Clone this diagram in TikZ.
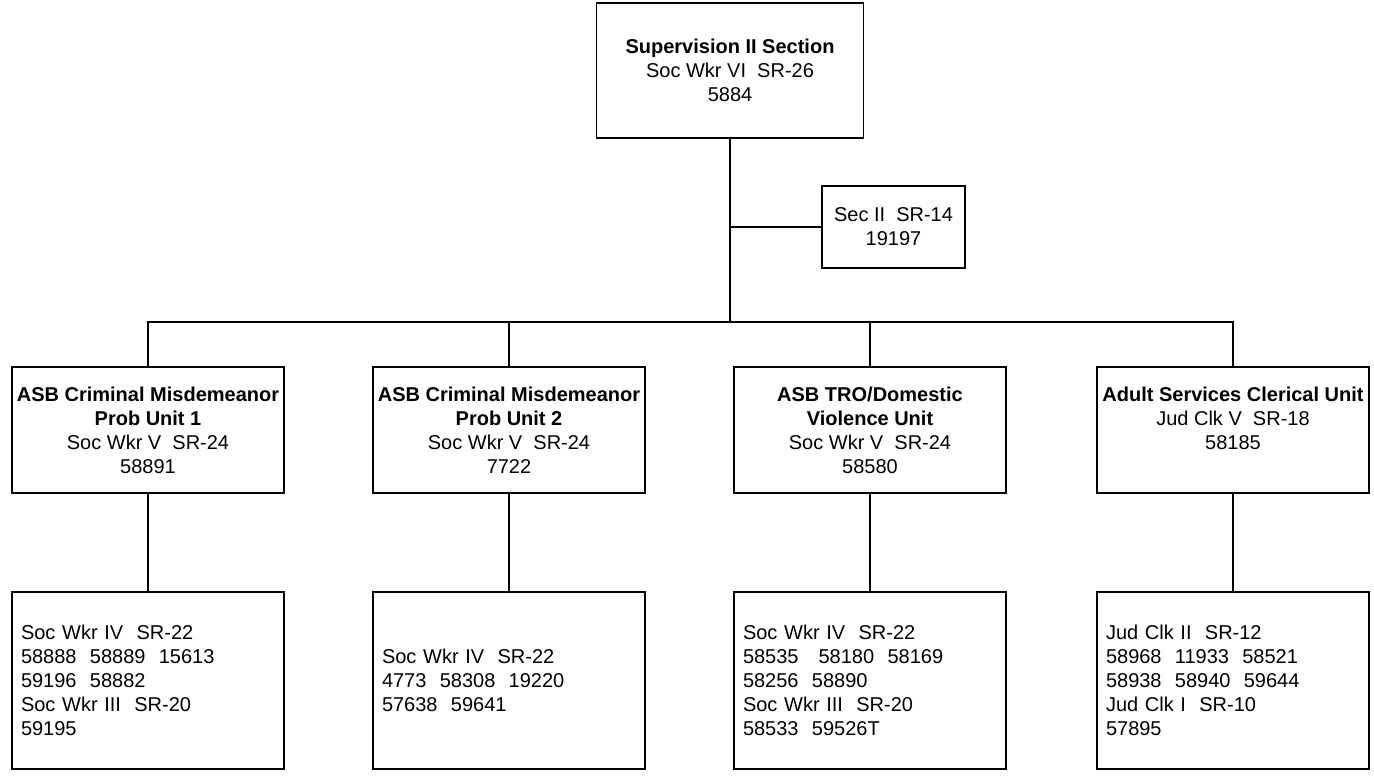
\documentclass[tikz,border=0pt]{standalone}
\usepackage{fontspec}
\setmainfont{Liberation Sans}
\usepackage{tikz}

\begin{document}
\begin{tikzpicture}[x=1pt, y=-1pt,
    every node/.style={font=\fontsize{20}{24}\selectfont},
    box/.style={draw=black, line width=1.6pt, rectangle},
    unitbox/.style={box, align=center, inner xsep=2pt, minimum width=272pt, minimum height=126pt},
    staffbox/.style={box, align=left, inner xsep=9pt, text width=254pt, minimum height=177pt},
    link/.style={draw=black, line width=1.4pt}]
    \useasboundingbox (0,0) rectangle (1374,784);

    %% Section head and secretary
    \node[box, align=center, minimum width=267pt, minimum height=135pt] (sup) at (730,70.5)
        {\textbf{Supervision II Section}\\Soc Wkr VI~~SR-26\\5884};
    \node[box, align=center, minimum width=143pt, minimum height=82pt] (sec) at (893.5,227)
        {Sec II~~SR-14\\19197};

    %% Units
    \node[unitbox] (unitA) at (148,430)
        {\textbf{ASB Criminal Misdemeanor}\\\textbf{Prob Unit 1}\\Soc Wkr V~~SR-24\\58891};
    \node[unitbox] (unitB) at (509,430)
        {\textbf{ASB Criminal Misdemeanor}\\\textbf{Prob Unit 2}\\Soc Wkr V~~SR-24\\7722};
    \node[unitbox] (unitC) at (870,430)
        {\textbf{ASB TRO/Domestic}\\\textbf{Violence Unit}\\Soc Wkr V~~SR-24\\58580};
    \node[unitbox] (unitD) at (1233,430)
        {\textbf{Adult Services Clerical Unit}\\Jud Clk V~~SR-18\\58185\\\mbox{}};

    %% Staff
    \node[staffbox] (staffA) at (148,680.5)
        {Soc Wkr IV~~SR-22\\58888~~58889~~15613\\59196~~58882\\Soc Wkr III~~SR-20\\59195};
    \node[staffbox] (staffB) at (509,680.5)
        {Soc Wkr IV~~SR-22\\4773~~58308~~19220\\57638~~59641};
    \node[staffbox] (staffC) at (870,680.5)
        {Soc Wkr IV~~SR-22\\58535~~~58180~~58169\\58256~~58890\\Soc Wkr III~~SR-20\\58533~~59526T};
    \node[staffbox] (staffD) at (1233,680.5)
        {Jud Clk II~~SR-12\\58968~~11933~~58521\\58938~~58940~~59644\\Jud Clk I~~SR-10\\57895};

    %% Connectors
    \coordinate (bus) at (sup.south |- 0,322);
    \draw[link] (sup.south) -- (bus);
    \draw[link] (sup.south |- sec.west) -- (sec.west);
    \draw[link] (unitA.north) |- (bus);
    \draw[link] (unitB.north) |- (bus);
    \draw[link] (unitC.north) |- (bus);
    \draw[link] (unitD.north) |- (bus);
    \draw[link] (unitA.south) -- (staffA.north);
    \draw[link] (unitB.south) -- (staffB.north);
    \draw[link] (unitC.south) -- (staffC.north);
    \draw[link] (unitD.south) -- (staffD.north);
\end{tikzpicture}
\end{document}
